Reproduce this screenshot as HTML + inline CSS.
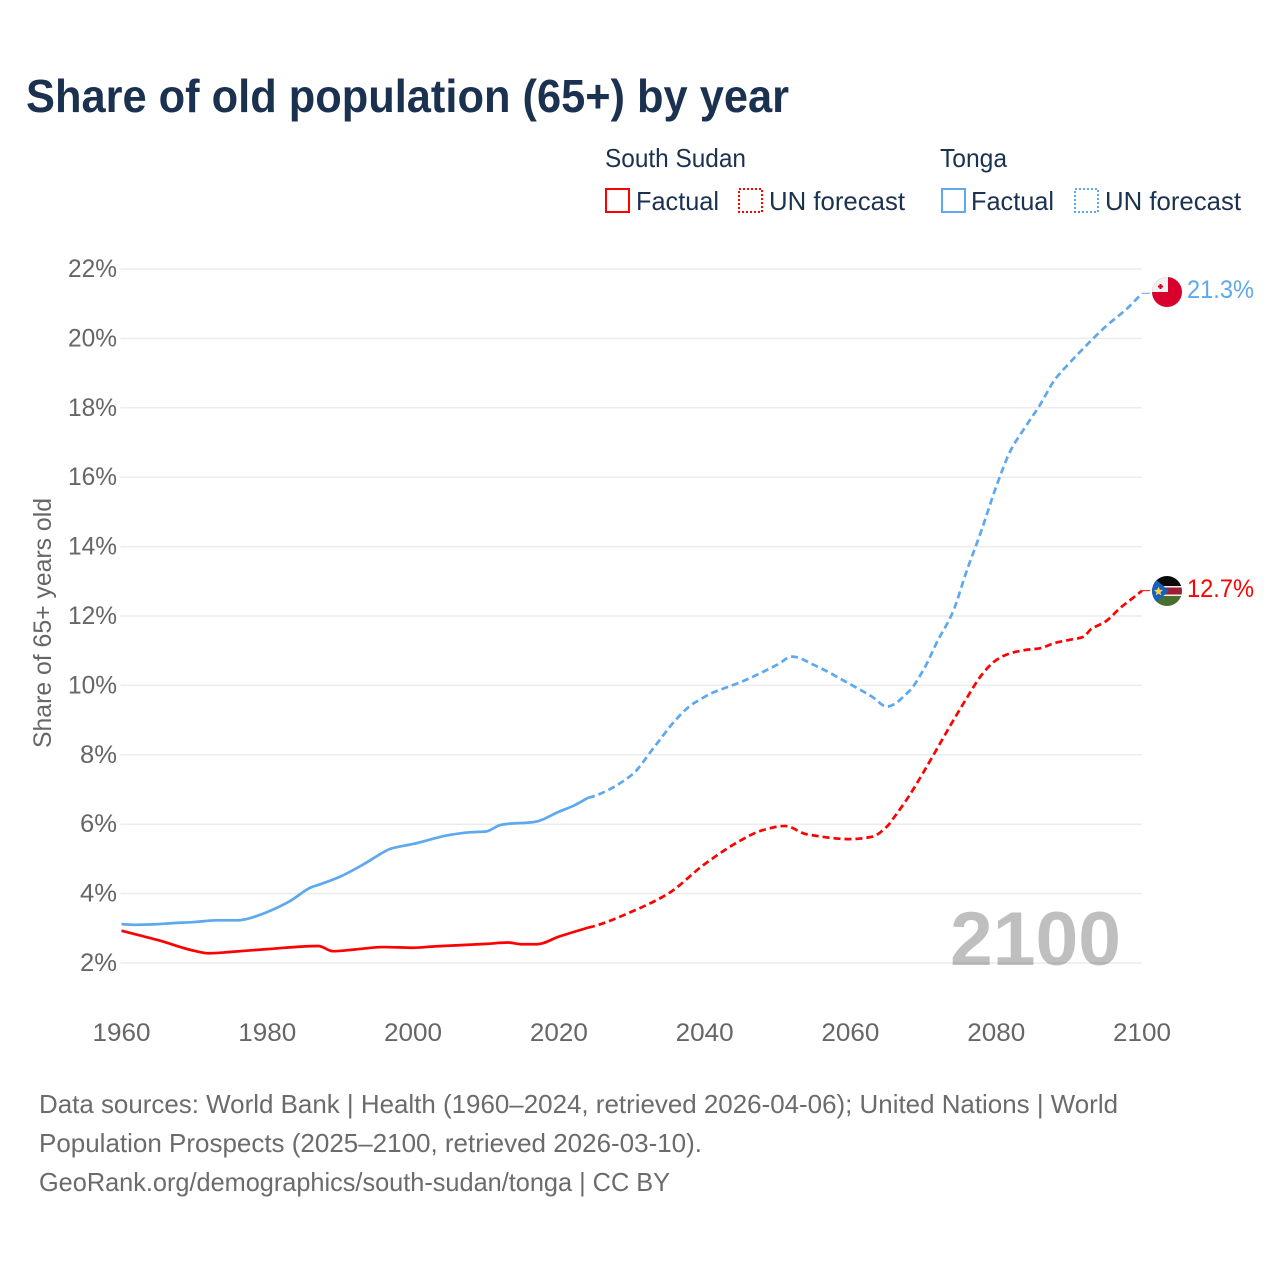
<!DOCTYPE html>
<html lang="en">
<head>
<meta charset="utf-8">
<title>Share of old population (65+) by year</title>
<style>
html,body{margin:0;padding:0;background:#fff;}
svg{display:block;font-family:"Liberation Sans",sans-serif;}
</style>
</head>
<body>
<svg id="chart" xmlns="http://www.w3.org/2000/svg" width="1280" height="1280" viewBox="0 0 1280 1280">
  <rect width="1280" height="1280" fill="#fff"/>
  <text x="26" y="112" font-size="46" font-weight="700" fill="#1a3150" textLength="763" lengthAdjust="spacingAndGlyphs">Share of old population (65+) by year</text>

  <g font-size="26" fill="#1a3150">
    <text x="605" y="167" textLength="141" lengthAdjust="spacingAndGlyphs">South Sudan</text>
    <rect x="606" y="189" width="23" height="23" fill="none" stroke="#ff0000" stroke-width="2"/>
    <text x="636" y="210" textLength="83" lengthAdjust="spacingAndGlyphs">Factual</text>
    <rect x="739" y="189" width="23" height="23" fill="none" stroke="#ff0000" stroke-width="2" stroke-dasharray="2 2"/>
    <text x="769" y="210" textLength="136" lengthAdjust="spacingAndGlyphs">UN forecast</text>
    <text x="940" y="167" textLength="67" lengthAdjust="spacingAndGlyphs">Tonga</text>
    <rect x="942" y="189" width="23" height="23" fill="none" stroke="#5ea8ee" stroke-width="2"/>
    <text x="971" y="210" textLength="83" lengthAdjust="spacingAndGlyphs">Factual</text>
    <rect x="1075" y="189" width="23" height="23" fill="none" stroke="#5ea8ee" stroke-width="2" stroke-dasharray="2 2"/>
    <text x="1105" y="210" textLength="136" lengthAdjust="spacingAndGlyphs">UN forecast</text>
  </g>

  <g id="grid"></g>
  <g id="yticks" font-size="25" fill="#666"></g>
  <g id="xticks" font-size="25" fill="#666"></g>
  <text transform="translate(51,623) rotate(-90)" text-anchor="middle" font-size="25" fill="#666" textLength="250" lengthAdjust="spacingAndGlyphs">Share of 65+ years old</text>

  <text x="950" y="965" font-size="76" font-weight="700" fill="#000" fill-opacity="0.25" textLength="171" lengthAdjust="spacingAndGlyphs">2100</text>

  <g id="series"></g>

  <defs>
    <clipPath id="clip-tonga"><circle cx="1167" cy="292" r="15"/></clipPath>
    <clipPath id="clip-ssd"><circle cx="1167" cy="591" r="15"/></clipPath>
  </defs>
  <g clip-path="url(#clip-tonga)">
    <rect x="1152" y="277" width="30" height="30" fill="#d8002c"/>
    <rect x="1152" y="277" width="16" height="15" fill="#f0f0f0"/>
    <rect x="1158" y="285.500" width="5" height="2" fill="#d8002c"/>
    <rect x="1159.500" y="284" width="2" height="5" fill="#d8002c"/>
  </g>
  <g clip-path="url(#clip-ssd)">
    <rect x="1152" y="576" width="30" height="10" fill="#0a0a0a"/>
    <rect x="1152" y="586" width="30" height="1.500" fill="#f0f0f0"/>
    <rect x="1152" y="587.500" width="30" height="7" fill="#a01c32"/>
    <rect x="1152" y="594.500" width="30" height="1.500" fill="#f0f0f0"/>
    <rect x="1152" y="596" width="30" height="10" fill="#47702f"/>
    <polygon points="1152,576 1169,591 1152,606" fill="#1560c0"/>
    <polygon points="1158.500,586.500 1159.800,589.800 1163,590 1160.500,592.200 1161.400,595.500 1158.500,593.600 1155.700,595.500 1156.500,592.200 1154,590 1157.200,589.800" fill="#f6d045"/>
  </g>
  <text id="label-tonga" x="1187" y="298" font-size="25" fill="#5ea8ee" textLength="67" lengthAdjust="spacingAndGlyphs">21.3%</text>
  <text id="label-ssd" x="1187" y="597" font-size="25" fill="#ff0000" textLength="67" lengthAdjust="spacingAndGlyphs">12.7%</text>

  <g font-size="26" fill="#6b6b6b">
    <text x="39" y="1113" textLength="1079" lengthAdjust="spacingAndGlyphs">Data sources: World Bank | Health (1960–2024, retrieved 2026-04-06); United Nations | World</text>
    <text x="39" y="1152" textLength="663" lengthAdjust="spacingAndGlyphs">Population Prospects (2025–2100, retrieved 2026-03-10).</text>
    <text x="39" y="1191" textLength="631" lengthAdjust="spacingAndGlyphs">GeoRank.org/demographics/south-sudan/tonga | CC BY</text>
  </g>
</svg>
<script>
const xTickYears = [1960, 1980, 2000, 2020, 2040, 2060, 2080, 2100];
const yTickValues = [2, 4, 6, 8, 10, 12, 14, 16, 18, 20, 22];

const tongaFactualYears = [1960, 1962, 1965, 1967, 1970, 1973, 1976, 1977, 1980, 1983, 1986, 1987, 1990, 1993, 1996, 1997, 2000, 2005, 2008, 2010, 2012, 2013, 2016, 2017, 2020, 2022, 2024];
const tongaFactualValues = [3.12, 3.10, 3.12, 3.15, 3.18, 3.23, 3.23, 3.26, 3.47, 3.77, 4.18, 4.25, 4.49, 4.82, 5.20, 5.30, 5.43, 5.69, 5.77, 5.79, 5.98, 6.01, 6.05, 6.08, 6.36, 6.53, 6.76];
const tongaForecastYears = [2024, 2025, 2030, 2033, 2036, 2038, 2040, 2041, 2045, 2050, 2052, 2055, 2060, 2063, 2065, 2068, 2070, 2072, 2074, 2076, 2078, 2080, 2082, 2084, 2086, 2088, 2090, 2092, 2095, 2098, 2100];
const tongaForecastValues = [6.76, 6.82, 7.42, 8.20, 9.00, 9.41, 9.67, 9.78, 10.10, 10.60, 10.83, 10.59, 10.03, 9.67, 9.39, 9.82, 10.44, 11.30, 12.09, 13.33, 14.48, 15.73, 16.78, 17.45, 18.08, 18.80, 19.28, 19.72, 20.34, 20.87, 21.30];

const sudanFactualYears = [1960, 1965, 1970, 1972, 1975, 1980, 1987, 1989, 1992, 1996, 2000, 2003, 2010, 2013, 2015, 2017, 2020, 2024];
const sudanFactualValues = [2.93, 2.66, 2.35, 2.28, 2.32, 2.40, 2.49, 2.34, 2.39, 2.46, 2.44, 2.48, 2.55, 2.59, 2.54, 2.54, 2.76, 3.02];
const sudanForecastYears = [2024, 2025, 2030, 2035, 2040, 2045, 2048, 2051, 2054, 2060, 2063, 2065, 2066, 2068, 2070, 2072, 2074, 2076, 2078, 2080, 2082, 2084, 2086, 2088, 2090, 2092, 2093, 2095, 2097, 2099, 2100];
const sudanForecastValues = [3.02, 3.07, 3.48, 4.00, 4.85, 5.54, 5.83, 5.95, 5.71, 5.57, 5.64, 5.93, 6.20, 6.80, 7.49, 8.22, 8.95, 9.65, 10.30, 10.73, 10.93, 11.02, 11.07, 11.22, 11.31, 11.40, 11.62, 11.84, 12.23, 12.56, 12.73];

const NS = 'http://www.w3.org/2000/svg';
function xScale(year) { return 121.5 + (year - 1960) * (1142 - 121.5) / 140; }
function yScale(value) { return 963 - (value - 2) * 34.7; }

// Monotone cubic path through the readings.
function curvePath(years, values) {
  const xs = years.map(xScale);
  const ys = values.map(yScale);
  const n = xs.length;
  const seg = [];
  for (let i = 0; i < n - 1; i++) seg.push((ys[i + 1] - ys[i]) / (xs[i + 1] - xs[i]));
  const tan = [seg[0]];
  for (let i = 1; i < n - 1; i++) {
    tan.push(seg[i - 1] * seg[i] <= 0 ? 0 : 2 * seg[i - 1] * seg[i] / (seg[i - 1] + seg[i]));
  }
  tan.push(seg[n - 2]);
  let d = 'M' + xs[0].toFixed(2) + ' ' + ys[0].toFixed(2);
  for (let i = 0; i < n - 1; i++) {
    const h = (xs[i + 1] - xs[i]) / 3;
    d += 'C' + (xs[i] + h).toFixed(2) + ' ' + (ys[i] + tan[i] * h).toFixed(2) + ' ' +
      (xs[i + 1] - h).toFixed(2) + ' ' + (ys[i + 1] - tan[i + 1] * h).toFixed(2) + ' ' +
      xs[i + 1].toFixed(2) + ' ' + ys[i + 1].toFixed(2);
  }
  return d;
}

const grid = document.getElementById('grid');
const yticks = document.getElementById('yticks');
const xticks = document.getElementById('xticks');
const series = document.getElementById('series');

yTickValues.forEach(function (v) {
  const line = document.createElementNS(NS, 'line');
  
  
  line.setAttribute('x1', 120.5);
  line.setAttribute('x2', 1142);
  line.setAttribute('y1', yScale(v));
  line.setAttribute('y2', yScale(v));
  line.setAttribute('stroke', '#ececec');
  line.setAttribute('stroke-width', 1.5);
  grid.appendChild(line);

  const label = document.createElementNS(NS, 'text');
  
  
  label.setAttribute('x', 117);
  label.setAttribute('y', yScale(v) + 8);
  label.setAttribute('text-anchor', 'end');
  label.setAttribute('textLength', v < 10 ? 37 : 49);
  label.setAttribute('lengthAdjust', 'spacingAndGlyphs');
  label.textContent = v + '%';
  yticks.appendChild(label);
});

xTickYears.forEach(function (year) {
  const label = document.createElementNS(NS, 'text');
  
  
  label.setAttribute('x', xScale(year));
  label.setAttribute('y', 1041);
  label.setAttribute('text-anchor', 'middle');
  label.setAttribute('textLength', 58);
  label.setAttribute('lengthAdjust', 'spacingAndGlyphs');
  label.textContent = year;
  xticks.appendChild(label);
});

function addLine(name, years, values, color, dash) {
  const path = document.createElementNS(NS, 'path');
  
  
  path.setAttribute('d', curvePath(years, values));
  path.setAttribute('fill', 'none');
  path.setAttribute('stroke', color);
  path.setAttribute('stroke-width', 2.7);
  path.setAttribute('stroke-linejoin', 'round');
  if (dash) path.setAttribute('stroke-dasharray', dash);
  series.appendChild(path);
}
function addConnector(name, value, color) {
  const line = document.createElementNS(NS, 'line');
  
  
  line.setAttribute('x1', xScale(2100));
  line.setAttribute('x2', xScale(2100) + 8);
  line.setAttribute('y1', yScale(value));
  line.setAttribute('y2', yScale(value));
  line.setAttribute('stroke', color);
  line.setAttribute('stroke-width', 1);
  series.appendChild(line);
}

addLine('tonga-factual-line', tongaFactualYears, tongaFactualValues, '#5ea8ee', '');
addLine('tonga-forecast-line', tongaForecastYears, tongaForecastValues, '#5ea8ee', '7 4');
addLine('south-sudan-factual-line', sudanFactualYears, sudanFactualValues, '#ff0000', '');
addLine('south-sudan-forecast-line', sudanForecastYears, sudanForecastValues, '#ff0000', '7 4');
addConnector('tonga-end-connector', tongaForecastValues[tongaForecastValues.length - 1], '#5ea8ee');
addConnector('south-sudan-end-connector', sudanForecastValues[sudanForecastValues.length - 1], '#ff0000');
</script>
</body>
</html>
